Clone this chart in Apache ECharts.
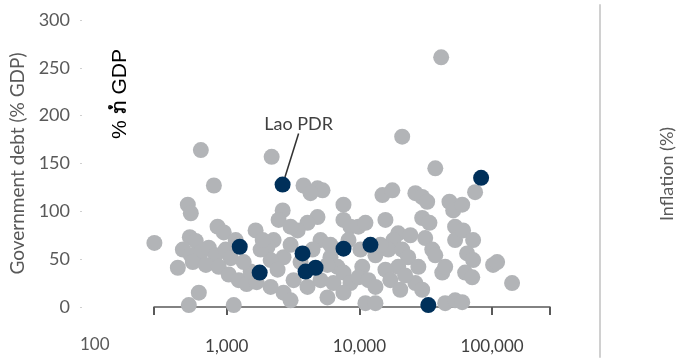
<!DOCTYPE html>
<html>
<head>
<meta charset="utf-8">
<script src="https://cdn.jsdelivr.net/npm/echarts@6/dist/echarts.min.js"></script>
<style>
  html, body { margin: 0; padding: 0; background: #fff; }
  #chart { width: 687px; height: 360px; }
</style>
</head>
<body>
<div id="chart"></div>
<script>
// GDP per capita (log scale) vs government debt, % of GDP
const xTickValues = [1000, 10000, 100000];

const otherCountries = [
  [41300, 261], [638, 164], [2180, 157], [21000, 178], [37300, 145], [800, 127],
  [509, 107], [536, 98], [853, 84], [950, 78], [285, 67], [527, 73], [584, 69],
  [467, 60], [536, 54], [638, 57], [732, 62], [826, 54], [982, 60], [1072, 51],
  [555, 47], [696, 44], [428, 41], [870, 42], [1035, 34], [1231, 28], [1413, 24],
  [616, 15], [518, 2], [1129, 2], [1515, 37], [1680, 26], [1342, 47], [1168, 70],
  [3790, 127], [4830, 124], [5270, 122], [4280, 119], [7580, 107], [2640, 101],
  [2460, 91], [4830, 94], [4060, 88], [3420, 80], [3027, 84], [1650, 80],
  [7580, 91], [8560, 84], [8270, 70], [2255, 70], [2030, 63], [2680, 52],
  [2142, 49], [2416, 39], [6050, 52], [6830, 42], [3190, 28], [4060, 21],
  [2680, 15], [2142, 21], [5090, 28], [6370, 25], [5740, 10], [3027, 7],
  [7580, 36], [8560, 25], [7580, 15], [5090, 70], [4430, 60], [6050, 65],
  [3027, 65], [5740, 44], [3599, 47], [1801, 60], [1866, 70],
  [14900, 117], [17700, 122], [26400, 119], [29700, 115], [32400, 110],
  [47700, 110], [50900, 101], [15700, 91], [29700, 93], [33700, 88], [9820, 84],
  [11100, 88], [19600, 77], [18000, 70], [31300, 72], [35400, 60], [37300, 54],
  [52600, 84], [52600, 70], [16500, 60], [21000, 60], [23300, 52], [19600, 42],
  [15700, 39], [27800, 42], [10500, 42], [9820, 31], [11700, 28], [13200, 21],
  [26400, 25], [29700, 18], [42100, 36], [44300, 42], [11100, 4], [13200, 4],
  [44300, 4], [52600, 7], [13200, 54], [14400, 65], [17100, 28], [20300, 18],
  [10170, 60], [24200, 75], [22100, 33],
  [74400, 120], [59500, 107], [60400, 80], [71900, 70], [64800, 56], [71900, 49],
  [62600, 36], [70800, 31], [101700, 44], [109100, 47], [141400, 25], [59500, 5]
];

const highlighted = [
  [1253, 63], [1771, 36], [3725, 56], [3927, 37], [4670, 41], [7586, 61],
  [12106, 65], [33040, 2], [82600, 135]
];

const laoPdr = [[2636, 128]];

const grey = '#b2b4b7';
const navy = '#00305a';
const font = 'Lato, "Open Sans", sans-serif';

const chart = echarts.init(document.getElementById('chart'), null, { renderer: 'canvas' });

chart.setOption({
  animation: false,
  textStyle: { fontFamily: font },
  grid: [
    { left: 153, right: 137, top: 20, bottom: 53 },
    { left: 600, width: 11, top: 5, bottom: 3 }
  ],
  xAxis: [
    {
      type: 'log',
      logBase: 10,
      min: 283,
      max: 273000,
      axisLine: { lineStyle: { color: '#595959', width: 1.5 } },
      axisTick: { show: true, length: 8, lineStyle: { color: '#595959', width: 2 } },
      axisLabel: {
        customValues: xTickValues,
        margin: 31,
        fontSize: 17,
        color: '#404040',
        fontFamily: font,
        formatter: (v) => Number(v).toLocaleString('en-US')
      },
      splitLine: { show: false },
      minorTick: { show: false }
    },
    { gridIndex: 1, type: 'value', show: false }
  ],
  yAxis: [
    {
      type: 'value',
      min: 0,
      max: 300,
      interval: 50,
      offset: 72,
      name: 'Government debt (% GDP)',
      nameLocation: 'middle',
      nameGap: 55,
      nameTextStyle: { fontSize: 19, color: '#595959', fontFamily: font },
      axisLine: { show: false },
      axisTick: { show: true, length: 2, lineStyle: { color: '#d0d0d0' } },
      axisLabel: { margin: 12, fontSize: 18, color: '#595959', fontFamily: font },
      splitLine: { show: false }
    },
    {
      gridIndex: 1,
      type: 'value',
      position: 'right',
      axisLine: { show: true, lineStyle: { color: '#d0d0d0', width: 2 } },
      axisTick: { show: false },
      axisLabel: { show: false },
      splitLine: { show: false }
    }
  ],
  graphic: [
    {
      type: 'text',
      left: 80,
      top: 336,
      style: { text: '100', fontSize: 17, fill: '#595959', fontFamily: font }
    },
    {
      type: 'text',
      x: 120,
      y: 94,
      rotation: Math.PI / 2,
      style: {
        text: '% ກໍ່ GDP',
        fontSize: 21,
        fill: '#000',
        align: 'center',
        verticalAlign: 'middle',
        fontFamily: '"Liberation Sans", "DejaVu Sans", sans-serif'
      }
    },
    {
      type: 'text',
      x: 667,
      y: 174,
      rotation: Math.PI / 2,
      style: {
        text: 'Inflation (%)',
        fontSize: 18,
        fill: '#595959',
        align: 'center',
        verticalAlign: 'middle',
        fontFamily: font
      }
    }
  ],
  series: [
    {
      type: 'scatter',
      data: otherCountries,
      symbolSize: 16,
      itemStyle: { color: grey, opacity: 1 },
      clip: true
    },
    {
      type: 'scatter',
      data: highlighted,
      symbolSize: 16,
      itemStyle: { color: navy, opacity: 1 },
      clip: true
    },
    {
      type: 'scatter',
      data: laoPdr,
      symbolSize: 16,
      itemStyle: { color: navy, opacity: 1 },
      label: {
        show: true,
        formatter: 'Lao PDR',
        position: 'inside',
        fontSize: 18,
        color: '#404040',
        fontFamily: font
      },
      labelLayout: { dx: 16, dy: -60 },
      labelLine: { show: true, lineStyle: { color: '#333', width: 1.5 } }
    }
  ]
});
</script>
</body>
</html>
